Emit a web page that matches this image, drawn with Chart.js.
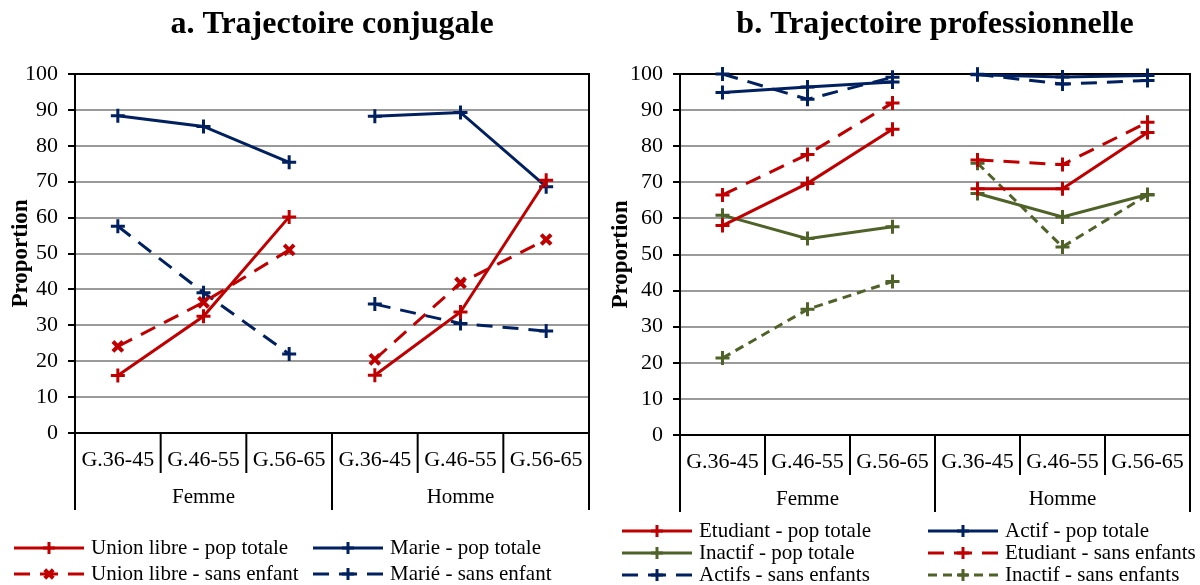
<!DOCTYPE html>
<html>
<head>
<meta charset="utf-8">
<script src="https://cdn.jsdelivr.net/npm/chart.js@4.4.1/dist/chart.umd.min.js"></script>
<style>
  html, body { margin: 0; padding: 0; background: #fff; }
  #wrap { position: relative; width: 1200px; height: 585px; }
  canvas { position: absolute; top: 0; }
</style>
</head>
<body>
<div id="wrap">
  <canvas id="chartA" width="600" height="585" style="left:0"></canvas>
  <canvas id="chartB" width="600" height="585" style="left:600px"></canvas>
</div>
<script>
const cohorts = ['G.36-45', 'G.46-55', 'G.56-65'];
const sexes = ['Femme', 'Homme'];
const categories = sexes.flatMap(() => cohorts);

// a. trajectoire conjugale (Femme x3, Homme x3)
const unionLibreTotale = [16, 32.5, 60.2, 16.1, 33.7, 70.4];
const marieTotale = [88.4, 85.4, 75.4, 88.2, 89.3, 68.6];
const unionLibreSansEnfant = [24.1, 36.4, 51, 20.5, 41.8, 53.9];
const marieSansEnfant = [57.6, 39.1, 22, 35.9, 30.5, 28.4];

// b. trajectoire professionnelle
const etudiantTotale = [58, 69.7, 84.7, 68.2, 68.2, 83.8];
const actifTotale = [94.9, 96.4, 97.8, 99.8, 99.2, 99.6];
const inactifTotale = [60.9, 54.4, 57.7, 66.9, 60.4, 66.6];
const etudiantSansEnfants = [66.5, 77.7, 92, 76.2, 74.9, 86.6];
const actifsSansEnfants = [100, 93, 99.1, 99.9, 97.2, 98.2];
const inactifSansEnfants = [21.3, 34.8, 42.5, 75.3, 52.1, 66.5];

const RED = '#C00000', NAVY = '#002060', GREEN = '#4F6228';
const SERIF = "'Liberation Serif', 'Times New Roman', serif";

Chart.defaults.font.family = SERIF;
Chart.defaults.color = '#000';

// no line between the last Femme cohort and the first Homme cohort
const breakSeg = {
  borderColor: ctx => ctx.p0DataIndex === cohorts.length - 1 ? 'rgba(0,0,0,0)' : undefined
};

function serie(label, data, color, dash, marker, markerWidth) {
  return {
    label, data,
    borderColor: color, backgroundColor: color,
    borderWidth: 3, borderDash: dash || [],
    pointStyle: marker || 'cross', pointRadius: 7, pointHoverRadius: 7,
    pointBorderWidth: markerWidth || 3,
    pointBorderColor: color, pointBackgroundColor: color,
    tension: 0, clip: false, segment: breakSeg
  };
}

function line(ctx, x1, y1, x2, y2) {
  ctx.beginPath(); ctx.moveTo(x1, y1); ctx.lineTo(x2, y2); ctx.stroke();
}

// frame, title, two-level category axis and legend
const excelFrame = {
  id: 'excelFrame',
  beforeDatasetsDraw(chart) {
    const {ctx, chartArea: a} = chart;
    ctx.save();
    ctx.strokeStyle = '#000'; ctx.lineWidth = 2;
    ctx.beginPath();
    ctx.moveTo(a.left, a.top); ctx.lineTo(a.right, a.top); ctx.lineTo(a.right, a.bottom);
    ctx.stroke();
    ctx.restore();
  },
  afterDraw(chart, args, opts) {
    const {ctx, chartArea: a} = chart;
    const x = chart.scales.x;
    ctx.save();
    ctx.fillStyle = '#000';
    ctx.textAlign = 'center'; ctx.textBaseline = 'middle';
    ctx.font = `bold 32px ${SERIF}`;
    ctx.fillText(opts.title, (a.left + a.right) / 2, 25);

    const half = (x.getPixelForValue(1) - x.getPixelForValue(0)) / 2;
    ctx.strokeStyle = '#000'; ctx.lineWidth = 2;
    for (let i = 0; i <= categories.length; i++) {
      const px = i < categories.length ? x.getPixelForValue(i) - half : x.getPixelForValue(i - 1) + half;
      const len = i % cohorts.length === 0 ? 77 : 40;
      line(ctx, px, a.bottom, px, a.bottom + len);
    }
    ctx.font = `21px ${SERIF}`;
    sexes.forEach((s, g) => {
      const first = x.getPixelForValue(g * cohorts.length) - half;
      const last = x.getPixelForValue((g + 1) * cohorts.length - 1) + half;
      ctx.fillText(s, (first + last) / 2, a.bottom + 64);
    });

    // legend samples: dashed line with the marker in the middle
    ctx.textAlign = 'left';
    chart.data.datasets.forEach((ds, i) => {
      const [lx, ly] = opts.legend[i];
      const w = 70, cx = lx + w / 2;
      ctx.strokeStyle = ds.borderColor; ctx.fillStyle = ds.borderColor;
      ctx.lineWidth = ds.borderWidth;
      ctx.setLineDash(ds.borderDash);
      line(ctx, lx, ly, cx, ly);
      line(ctx, lx + w, ly, cx, ly);
      ctx.setLineDash([]);
      ctx.lineWidth = ds.pointBorderWidth;
      Chart.helpers.drawPoint(ctx, {pointStyle: ds.pointStyle, rotation: 0, radius: 6, borderWidth: ds.pointBorderWidth}, cx, ly);
      ctx.fillStyle = '#000';
      ctx.fillText(ds.label, lx + w + 7, ly);
    });
    ctx.restore();
  }
};

function buildChart(id, datasets, title, yWidth, pad, legendSlots) {
  return new Chart(document.getElementById(id), {
    type: 'line',
    data: { labels: categories, datasets },
    plugins: [excelFrame],
    options: {
      responsive: false,
      animation: false,
      layout: { padding: pad },
      plugins: {
        legend: { display: false },
        tooltip: { enabled: false },
        excelFrame: { title, legend: legendSlots }
      },
      scales: {
        x: {
          offset: true,
          grid: { drawOnChartArea: false, drawTicks: false },
          border: { color: '#000', width: 2 },
          ticks: { autoSkip: false, maxRotation: 0, padding: 14, font: { size: 22 }, color: '#000' },
          afterFit: s => { s.height = 80; }
        },
        y: {
          min: 0, max: 100,
          ticks: { stepSize: 10, padding: 10, font: { size: 22 }, color: '#000' },
          grid: { color: '#9a9a9a', lineWidth: 2, tickColor: '#000', tickLength: 7, tickWidth: 2 },
          border: { color: '#000', width: 2 },
          title: { display: true, text: 'Proportion', font: { size: 23, weight: 'bold' }, color: '#000', padding: 0 },
          afterFit: s => { s.width = yWidth; }
        }
      }
    }
  });
}

buildChart('chartA', [
  serie('Union libre - pop totale', unionLibreTotale, RED),
  serie('Marie - pop totale', marieTotale, NAVY),
  serie('Union libre - sans enfant', unionLibreSansEnfant, RED, [16, 10], 'crossRot', 4),
  serie('Marié - sans enfant', marieSansEnfant, NAVY, [16, 10])
], 'a. Trajectoire conjugale', 68, { left: 7, right: 11, top: 74, bottom: 72 },
  [[14, 548], [313, 548], [14, 574], [313, 574]]);

buildChart('chartB', [
  serie('Etudiant - pop totale', etudiantTotale, RED),
  serie('Actif - pop totale', actifTotale, NAVY),
  serie('Inactif - pop totale', inactifTotale, GREEN),
  serie('Etudiant - sans enfants', etudiantSansEnfants, RED, [16, 10]),
  serie('Actifs - sans enfants', actifsSansEnfants, NAVY, [16, 10]),
  serie('Inactif - sans enfants', inactifSansEnfants, GREEN, [9, 6])
], 'b. Trajectoire professionnelle', 73, { left: 7, right: 2, top: 74, bottom: 70 },
  [[22, 531], [328, 531], [22, 553], [328, 553], [22, 575], [328, 575]]);
</script>
</body>
</html>
